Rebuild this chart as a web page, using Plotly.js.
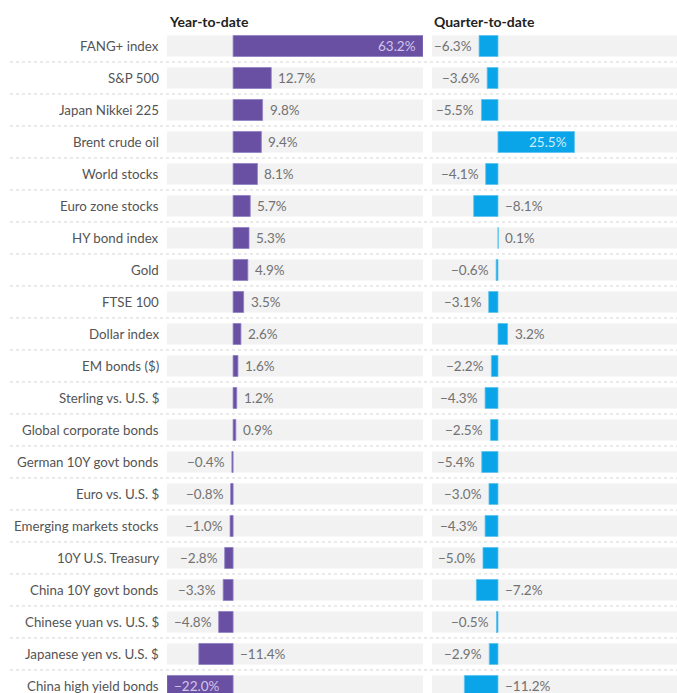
<!DOCTYPE html>
<html>
<head>
<meta charset="utf-8">
<script src="https://cdn.plot.ly/plotly-3.0.1.min.js"></script>
<style>html,body{margin:0;padding:0;background:#fff;}#chart{width:677px;height:693px;}</style>
</head>
<body>
<div id="chart"></div>
<script>
const categories = ["FANG+ index","S&P 500","Japan Nikkei 225","Brent crude oil","World stocks","Euro zone stocks","HY bond index","Gold","FTSE 100","Dollar index","EM bonds ($)","Sterling vs. U.S. $","Global corporate bonds","German 10Y govt bonds","Euro vs. U.S. $","Emerging markets stocks","10Y U.S. Treasury","China 10Y govt bonds","Chinese yuan vs. U.S. $","Japanese yen vs. U.S. $","China high yield bonds"];
const ytd = [63.2,12.7,9.8,9.4,8.1,5.7,5.3,4.9,3.5,2.6,1.6,1.2,0.9,-0.4,-0.8,-1.0,-2.8,-3.3,-4.8,-11.4,-22.0];
const qtd = [-6.3,-3.6,-5.5,25.5,-4.1,-8.1,0.1,-0.6,-3.1,3.2,-2.2,-4.3,-2.5,-5.4,-3.0,-4.3,-5.0,-7.2,-0.5,-2.9,-11.2];
const panelTitles = ["Year-to-date","Quarter-to-date"];

const W = 677, H = 693;
const FONT = "Lato, 'Noto Sans', sans-serif";
const idx = categories.map((_, i) => i);
const x1Range = [-22, 63.2];
const x2Range = [-22, 59.7];
const barW = 0.656;
const purple = "#6a50a2";
const blue = "#0aa4e8";

function fmt(v){ return (v < 0 ? "\u2212" : "") + Math.abs(v).toFixed(1) + "%"; }

const traces = [
  {type:"bar", orientation:"h", y:idx, x:idx.map(()=>x1Range[1]-x1Range[0]), base:x1Range[0], xaxis:"x", yaxis:"y", width:barW, marker:{color:"#f2f2f2"}, hoverinfo:"skip"},
  {type:"bar", orientation:"h", y:idx, x:idx.map(()=>x2Range[1]-x2Range[0]+10), base:x2Range[0], xaxis:"x2", yaxis:"y", width:barW, marker:{color:"#f2f2f2"}, hoverinfo:"skip"},
  {type:"bar", orientation:"h", y:idx, x:ytd, xaxis:"x", yaxis:"y", width:barW, marker:{color:purple, line:{color:"#8f7fc4", width:0.8}}},
  {type:"bar", orientation:"h", y:idx, x:qtd, xaxis:"x2", yaxis:"y", width:barW, marker:{color:blue, line:{color:"#5cc3f0", width:0.8}}}
];

const annotations = [];
categories.forEach((c, i) => {
  annotations.push({xref:"paper", yref:"y", x:161/W, y:i, text:c, showarrow:false, xanchor:"right", yanchor:"middle", font:{family:FONT, size:13.3, color:"#545454"}});
});

function valueLabel(v, i, xr, inColor){
  const base = {xref:xr, yref:"y", y:i, text:fmt(v), showarrow:false, yanchor:"middle", font:{family:FONT, size:13.5, color:"#717171"}};
  if (Math.abs(v) >= 20) {
    return Object.assign(base, {x:v, xanchor: v>0 ? "right" : "left", xshift: v>0 ? -5 : 5, font:{family:FONT, size:13.5, color:inColor}});
  }
  if (v >= 0) return Object.assign(base, {x:v, xanchor:"left", xshift:5});
  if (v < -7) return Object.assign(base, {x:0, xanchor:"left", xshift:5});
  return Object.assign(base, {x:v, xanchor:"right", xshift:-5});
}
ytd.forEach((v,i)=>annotations.push(valueLabel(v,i,"x","#cfc6ea")));
qtd.forEach((v,i)=>annotations.push(valueLabel(v,i,"x2","#cdeefc")));

const plotTop = 30;
annotations.push({xref:"paper", yref:"paper", x:167/W, y:1+(plotTop-21)/(H-plotTop), text:"<b>"+panelTitles[0]+"</b>", showarrow:false, xanchor:"left", yanchor:"middle", font:{family:FONT, size:14, color:"#222"}});
annotations.push({xref:"paper", yref:"paper", x:432/W, y:1+(plotTop-21)/(H-plotTop), text:"<b>"+panelTitles[1]+"</b>", showarrow:false, xanchor:"left", yanchor:"middle", font:{family:FONT, size:14, color:"#222"}});

const shapes = [];
for (let i = 0; i < categories.length - 1; i++) {
  shapes.push({type:"line", xref:"paper", yref:"y", x0:10/W, x1:1, y0:i+0.5, y1:i+0.5, line:{color:"#d4d4d4", width:1, dash:"dot"}, layer:"below"});
}

const layout = {
  width:W, height:H,
  margin:{l:0, r:0, t:plotTop, b:0},
  paper_bgcolor:"#fff", plot_bgcolor:"rgba(0,0,0,0)",
  barmode:"overlay", showlegend:false,
  xaxis:{domain:[167/W, 423/W], range:x1Range, visible:false, fixedrange:true},
  xaxis2:{domain:[432/W, 1], range:x2Range, visible:false, fixedrange:true},
  yaxis:{range:[20.22, -0.5], visible:false, fixedrange:true},
  annotations:annotations, shapes:shapes
};

Plotly.newPlot("chart", traces, layout, {displayModeBar:false, staticPlot:true});
</script>
</body>
</html>
